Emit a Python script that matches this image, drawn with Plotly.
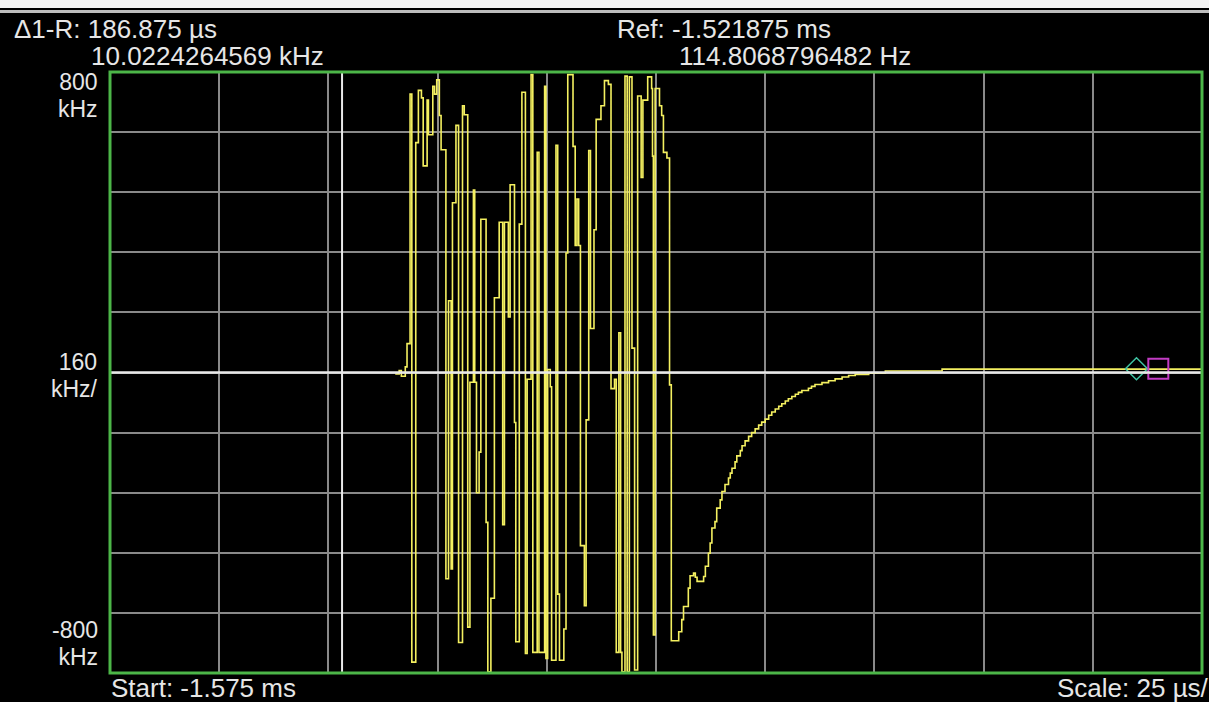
import plotly.graph_objects as go

# ---------------- data (time in microseconds, frequency deviation in kHz) ----------------
time_us = [
    -1509.7, -1508.8, -1508.3, -1507.4, -1507.0, -1506.3, -1505.9, -1505.0, -1504.4, -1503.7,
    -1503.3, -1502.4, -1502.1, -1501.1, -1500.7, -1500.2, -1499.6, -1499.2, -1498.1, -1497.5,
    -1496.9, -1496.6, -1495.8, -1495.2, -1494.3, -1493.9, -1493.1, -1492.6, -1491.8, -1491.5,
    -1491.1, -1490.5, -1490.1, -1488.9, -1488.5, -1487.8, -1487.0, -1485.9, -1485.1, -1484.7,
    -1483.8, -1483.4, -1482.4, -1482.1, -1481.3, -1480.7, -1479.9, -1479.5, -1478.6, -1478.2,
    -1477.2, -1476.8, -1475.5, -1475.2, -1474.8, -1474.2, -1473.9, -1472.9, -1472.5, -1472.1,
    -1471.1, -1470.6, -1470.2, -1469.0, -1468.5, -1468.1, -1467.7, -1467.3, -1466.4, -1466.0,
    -1465.4, -1465.0, -1464.2, -1463.7, -1462.6, -1461.8, -1460.9, -1460.3, -1459.5, -1459.1,
    -1458.5, -1458.1, -1457.8, -1457.1, -1456.6, -1456.1, -1455.5, -1454.9, -1454.2, -1453.4,
    -1453.0, -1451.9, -1451.0, -1450.8, -1450.6, -1450.2, -1449.2, -1448.7, -1448.3, -1447.5,
    -1446.9, -1446.5,
    -1444.8, -1444.1, -1443.7, -1442.6, -1442.2, -1441.4, -1441.0, -1440.6, -1439.1, -1438.7,
    -1438.0, -1437.6, -1437.2, -1436.5, -1436.1, -1435.3, -1434.9, -1434.2, -1433.4, -1433.0,
    -1432.6, -1431.9, -1431.5, -1430.7, -1430.3, -1429.6, -1428.8, -1428.1, -1427.3, -1426.5,
    -1425.8, -1425.0, -1424.2, -1423.5, -1422.7, -1421.9, -1421.2, -1420.4, -1419.7, -1418.9,
    -1418.1, -1417.4, -1416.6, -1415.1, -1414.4, -1413.6, -1412.0, -1410.5, -1409.0, -1407.4,
    -1405.9, -1404.4, -1401.3, -1397.5, -1384.5, -1325.0,
]
freq_khz = [
    -4, 5, -10, 15, 77, 741, -771, 612, 751, 731,
    550, 725, 633, 762, 741, 779, 684, 593, -549, 191,
    -523, 452, 658, -719, 710, 686, -678, -26, 486, -26,
    -320, -212, 408, -399, -797, -601, 199, 400, -405, 400,
    148, 500, -133, -717, 395, 746, -748, -18, 793, -745,
    586, -745, 762, -761, 8, -38, -766, 605, -590, -766,
    -683, 318, 793, 602, 338, 462, 338, -461, -621, -126,
    591, 117, 380, 674, 710, 777, 767, -43, -18, -745,
    106, -745, -797, 789, -797, 787, 65, -792, 736, 519,
    725, 787, 756, 576, -699, 756, 710, 684, 586, 571,
    -33, -714,
    -690, -658, -623, -574, -541, -534, -545, -556, -543, -516,
    -481, -454, -414, -397, -361, -339, -317, -298, -281, -268,
    -255, -238, -222, -208, -195, -182, -170, -160, -150, -140,
    -132, -124, -114, -105, -97, -90, -83, -76, -70, -64,
    -58, -53, -48, -42, -37, -32, -27, -22, -17, -12,
    -8, -5, -2, 4, 9, 10,
]

x_range = [-1575, -1325]          # Start -1.575 ms, 25 us/div
y_range = [-800, 800]             # 160 kHz/div
ref_time_us = -1521.875           # Ref marker
marker_r_time_us = -1340.0
marker_1_time_us = -1335.0        # Ref + 186.875 us
marker_freq_khz = 10.0

header_left = ["Δ1-R: 186.875 µs", "10.0224264569 kHz"]
header_right = ["Ref: -1.521875 ms", "114.8068796482 Hz"]
y_labels = [("800", "kHz"), ("160", "kHz/"), ("-800", "kHz")]
footer_left = "Start: -1.575 ms"
footer_right = "Scale: 25 µs/"

# ---------------- layout geometry ----------------
W, H = 1209, 702
L, R, T, B = 110, 7, 72, 29
PW, PH = W - L - R, H - T - B


def px(xp):
    return (xp - L) / PW


def py(yp):
    return (H - B - yp) / PH


TXT = "#e6e6e6"
FONT = "Liberation Sans"
FS = 26
LBL_FS = 23

fig = go.Figure()

fig.add_trace(go.Scatter(
    x=time_us, y=freq_khz, mode="lines",
    line=dict(color="#f4f060", width=1.6, shape="hv"),
    hoverinfo="skip", showlegend=False,
))

fig.add_trace(go.Scatter(
    x=[marker_r_time_us], y=[marker_freq_khz], mode="markers",
    marker=dict(symbol="diamond-open", size=17, color="#3fc4a4", line=dict(width=1.5, color="#3fc4a4")),
    hoverinfo="skip", showlegend=False, cliponaxis=False,
))
fig.add_trace(go.Scatter(
    x=[marker_1_time_us], y=[marker_freq_khz], mode="markers",
    marker=dict(symbol="square-open", size=20, color="#c23cc4", line=dict(width=2, color="#c23cc4")),
    hoverinfo="skip", showlegend=False, cliponaxis=False,
))

shapes = [
    # reference (centre) line
    dict(type="line", xref="paper", yref="y", x0=0, x1=1, y0=0, y1=0,
         line=dict(color="#e8e8e8", width=2.5), layer="above"),
    # reference cursor
    dict(type="line", xref="x", yref="paper", x0=ref_time_us, x1=ref_time_us, y0=0, y1=1,
         line=dict(color="#e8e8e8", width=2), layer="above"),
    # green frame
    dict(type="rect", xref="paper", yref="paper", x0=0, x1=1, y0=0, y1=1,
         line=dict(color="#4cb648", width=3), layer="above"),
    # top bar lines
    dict(type="rect", xref="paper", yref="paper", x0=px(0), x1=px(W), y0=py(0), y1=py(8),
         line=dict(width=0), fillcolor="#f4f4f4", layer="above"),
    dict(type="line", xref="paper", yref="paper", x0=px(0), x1=px(W), y0=py(11.5), y1=py(11.5),
         line=dict(color="#bdbdbd", width=3), layer="above"),
]

ann = []


def add_text(text, xp, yp, anchor, size=FS):
    ann.append(dict(text=text, xref="paper", yref="paper", x=px(xp), y=py(yp),
                    xanchor=anchor, yanchor="middle", showarrow=False, align="right",
                    font=dict(family=FONT, size=size, color=TXT)))


add_text(header_left[0], 12, 29, "left")
add_text(header_left[1], 89, 56, "left")
add_text(header_right[0], 615, 29, "left")
add_text(header_right[1], 677, 56, "left")

# two-line axis labels: line pitch set by the outer font (~27 px pitch), glyphs at LBL_FS
label_mid = [96, 375, 643]
for (num, unit), ym in zip(y_labels, label_mid):
    txt = (f"<span style='font-size:{LBL_FS}px'>{num}</span><br>"
           f"<span style='font-size:{LBL_FS}px'>{unit}</span>")
    add_text(txt, 100, ym, "right", size=20.8)

add_text(footer_left, 109, 688, "left")
add_text(footer_right, 1211, 688, "right")

fig.update_layout(
    width=W, height=H,
    margin=dict(l=L, r=R, t=T, b=B, pad=0),
    paper_bgcolor="black", plot_bgcolor="black",
    showlegend=False,
    xaxis=dict(range=x_range, tick0=x_range[0], dtick=25, showgrid=True,
               gridcolor="#8a8a8a", gridwidth=1.5, zeroline=False,
               showticklabels=False, ticks="", showline=False, fixedrange=True),
    yaxis=dict(range=y_range, tick0=y_range[0], dtick=160, showgrid=True,
               gridcolor="#8a8a8a", gridwidth=1.5, zeroline=False,
               showticklabels=False, ticks="", showline=False, fixedrange=True),
    shapes=shapes, annotations=ann,
)

fig.write_html(
    "out.html",
    config={"displayModeBar": False},
    post_script="document.body.style.margin='0';document.body.style.background='black';",
)
